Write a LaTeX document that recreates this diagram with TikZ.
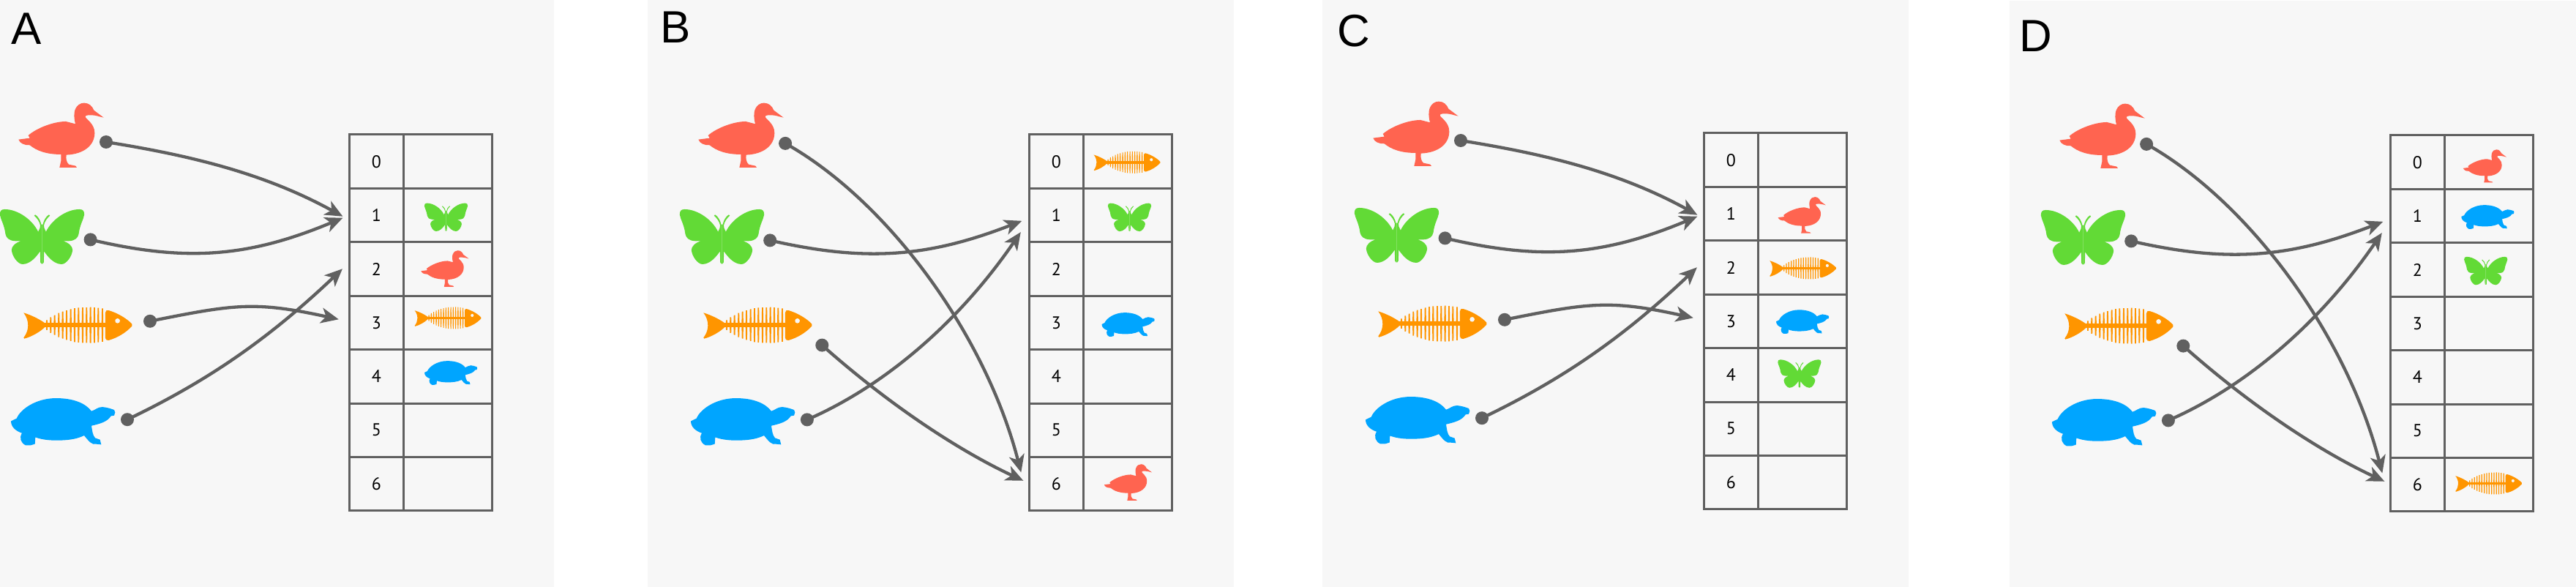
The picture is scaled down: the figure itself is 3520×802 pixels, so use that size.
\documentclass[tikz,border=0pt]{standalone}
\usepackage{fontspec}
\setmainfont{PT Sans}
\newfontfamily\letterfont{Liberation Sans}
\usetikzlibrary{arrows.meta}
\definecolor{panelbg}{HTML}{F7F7F7}
\definecolor{inkc}{HTML}{606060}
\definecolor{duckc}{HTML}{FF6450}
\definecolor{bflyc}{HTML}{62DA36}
\definecolor{fishc}{HTML}{FF9500}
\definecolor{turtc}{HTML}{00A5FF}
\tikzset{
  panelbox/.style={fill=panelbg,draw=none},
  cellbase/.style={draw=inkc,line width=0.3mm,rectangle,inner sep=0pt,minimum height=7.34mm,font=\fontsize{6.8pt}{8pt}\selectfont,text=black},
  idxcell/.style={cellbase,minimum width=7.41mm},
  valcell/.style={cellbase,minimum width=12.09mm},
  dotnode/.style={circle,fill=inkc,draw=none,inner sep=0pt,minimum size=1.8mm},
  conn/.style={draw=inkc,line width=0.43mm,-{Stealth[length=2.4mm,width=2.1mm,inset=0.65mm]}},
  panellabel/.style={anchor=base,inner sep=0pt,font=\letterfont\fontsize{17.6pt}{20pt}\selectfont,text=black},
  duck/.pic={
    \fill[duckc,shift={(-250.5,-194.5)}] (425,122) .. controls (405,118) and (392,112) .. (375,112)
      .. controls (362,112) and (350,112) .. (350,118)
      .. controls (350,128) and (388,145) .. (388,185)
      .. controls (388,235) and (345,272) .. (272,275)
      .. controls (270,290) and (272,305) .. (282,314)
      -- (310,320) -- (315,327) -- (244,327) -- (250,300) -- (250,273)
      .. controls (190,273) and (150,258) .. (122,235)
      .. controls (100,236) and (82,228) .. (76,212)
      -- (122,206) -- (116,195)
      .. controls (150,165) and (220,138) .. (270,138)
      -- (309,148)
      .. controls (303,125) and (303,105) .. (307,92)
      .. controls (315,70) and (330,62) .. (345,62)
      .. controls (365,62) and (378,75) .. (385,92)
      -- cycle;
  },
  bfly/.pic={
    \foreach \s in {1,-1}{
      \begin{scope}[xscale=\s]
        \fill[bflyc] (0,-50) -- (7,-50) -- (9,-35) -- (16,-20)
          .. controls (40,-70) and (100,-112) .. (153,-112)
          .. controls (168,-112) and (173,-105) .. (173,-90)
          .. controls (170,-70) and (155,-50) .. (150,-10)
          .. controls (147,5) and (135,17) .. (110,18)
          -- (86,18)
          .. controls (110,25) and (125,40) .. (125,55)
          .. controls (123,80) and (100,113) .. (80,113)
          .. controls (50,113) and (25,85) .. (8,60)
          -- (7,105) -- (3,111) -- (0,111) -- cycle;
        \fill[bflyc] (3,-48) .. controls (6,-65) and (15,-82) .. (28,-90)
          -- (32,-86) .. controls (20,-75) and (11,-62) .. (8,-48) -- cycle;
      \end{scope}
    }
  },
  fishbone/.pic={
    \begin{scope}[shift={(-319,-165)}]
      \fill[fishc] (97,112) .. controls (130,122) and (165,140) .. (185,155)
        -- (185,170) .. controls (165,190) and (130,210) .. (100,218)
        -- (97,214) .. controls (120,185) and (122,145) .. (97,112) -- cycle;
      \fill[fishc] (182,153) rectangle (436,172);
      \fill[fishc] (432,112) .. controls (432,103) and (438,100) .. (445,102)
        .. controls (480,112) and (520,135) .. (541,158)
        -- (541,167) .. controls (515,195) and (480,215) .. (445,225)
        .. controls (438,226) and (432,222) .. (432,215) -- cycle;
      \foreach \x/\t in {192/142,208/130,224/122,241/113,257/107,273/102,290/97,306/93,322/91,339/90,355/90,371/89,387/90,403/92,420/94}{
        \fill[fishc] (\x-2.6,\t) -- (\x+2.6,\t) -- (\x+4,162) -- ({\x+2.6},{325-\t}) -- ({\x-2.6},{325-\t}) -- (\x-4,162) -- cycle;
      }
      \fill[panelbg] (482,145) circle[radius=10];
    \end{scope}
  },
  turtle/.pic={
    \fill[turtc,shift={(-258,-560)}] (45,556) -- (68,545)
      .. controls (85,505) and (150,462) .. (230,462)
      .. controls (300,462) and (350,482) .. (375,515)
      .. controls (392,510) and (400,498) .. (420,498)
      .. controls (440,500) and (455,505) .. (468,510)
      -- (472,520) -- (468,533) -- (455,535)
      .. controls (440,560) and (405,568) .. (375,575)
      .. controls (378,595) and (380,615) .. (390,625)
      -- (410,632) -- (415,652) -- (395,650)
      .. controls (378,655) and (365,640) .. (345,615)
      .. controls (310,632) and (270,635) .. (230,635)
      .. controls (195,635) and (165,630) .. (145,622)
      -- (143,650) -- (125,655) -- (105,655)
      .. controls (85,645) and (78,625) .. (90,605)
      .. controls (65,597) and (45,580) .. (45,556) -- cycle;
  }
}
\newcommand\tablegrid[1]{%
  \foreach \r in {0,...,6}{
    \node[idxcell] (#1i\r) at (514.45,{184+73.4*(\r+0.5)}) {\r};
    \node[valcell] (#1v\r) at (611.95,{184+73.4*(\r+0.5)}) {};
  }
}
\newcommand\animals{%
  \pic[scale=0.3333] at (83.5,184.8) {duck};
  \pic[scale=0.3333] at (57.5,323.3) {bfly};
  \pic[scale=0.3333] at (106.3,445) {fishbone};
  \pic[scale=0.3333] at (86,576.7) {turtle};
}
% layout used by panels A and C
\newcommand\arrowsfirst[1]{%
  \node[dotnode] (#1d1) at (145,194) {};
  \node[dotnode] (#1d2) at (123.6,327.4) {};
  \node[dotnode] (#1d3) at (205,438.8) {};
  \node[dotnode] (#1d4) at (174,573.2) {};
  \coordinate (#1t1) at (468.4,295.7);
  \coordinate (#1t2) at (468.4,297.7);
  \coordinate (#1t3) at (462.8,436.3);
  \coordinate (#1t4) at (467.9,367.3);
  \draw[conn] (#1d1.center) .. controls (255,211.6) and (358.4,235.2) .. (#1t1);
  \draw[conn] (#1d2.center) .. controls (253.6,358) and (338.4,352) .. (#1t2);
  \draw[conn] (#1d3.center) .. controls (320,415.8) and (347.8,411) .. (#1t3);
  \draw[conn] (#1d4.center) .. controls (279,522.8) and (362.9,467) .. (#1t4);
}
% layout used by panels B and D
\newcommand\arrowssecond[1]{%
  \node[dotnode] (#1d1) at (144.1,195.9) {};
  \node[dotnode] (#1d2) at (123.2,328.4) {};
  \node[dotnode] (#1d3) at (194.3,471.6) {};
  \node[dotnode] (#1d4) at (173.9,573.4) {};
  \coordinate (#1t1) at (466.3,645.5);
  \coordinate (#1t2) at (467.3,301.8);
  \coordinate (#1t3) at (469.4,656.8);
  \coordinate (#1t4) at (465.8,317.1);
  \draw[conn] (#1d1.center) .. controls (285,275) and (418,458) .. (#1t1);
  \draw[conn] (#1d2.center) .. controls (253,358) and (338,352) .. (#1t2);
  \draw[conn] (#1d3.center) .. controls (284.3,551.6) and (379.4,614.8) .. (#1t3);
  \draw[conn] (#1d4.center) .. controls (285,525) and (385,435) .. (#1t4);
}
\begin{document}
\begin{tikzpicture}[x=0.1mm,y=-0.1mm]
  \useasboundingbox (0,0) rectangle (3520,802);
  \fill[white] (0,0) rectangle (3520,802);
  \fill[panelbox] (0,0) rectangle (757,802);
  \fill[panelbox] (885,0) rectangle (1685.6,802);
  \fill[panelbox] (1807,0) rectangle (2608,802);
  \fill[panelbox] (2746,1) rectangle (3520,802);
  \node[panellabel] (labA) at (36.5,61) {A};
  \node[panellabel] (labB) at (923.5,59) {B};
  \node[panellabel] (labC) at (1849.5,64) {C};
  \node[panellabel] (labD) at (2782,71) {D};
  % Panel A
  \begin{scope}
    \tablegrid{a}
    \animals
    \arrowsfirst{a}
    \pic[scale=0.171] at (609.5,296.7) {bfly};
    \pic[scale=0.187] at (608,367) {duck};
    \pic[scale=0.204] at (612,435) {fishbone};
    \pic[scale=0.169] at (616,509.7) {turtle};
  \end{scope}
  % Panel B
  \begin{scope}[shift={(929,0)}]
    \tablegrid{b}
    \animals
    \arrowssecond{b}
    \pic[scale=0.204] at (611,222.3) {fishbone};
    \pic[scale=0.171] at (614.5,296.8) {bfly};
    \pic[scale=0.169] at (612.5,443.7) {turtle};
    \pic[scale=0.187] at (612.5,659) {duck};
  \end{scope}
  % Panel C
  \begin{scope}[shift={(1851,-2)}]
    \tablegrid{c}
    \animals
    \arrowsfirst{c}
    \pic[scale=0.187] at (611.3,295.9) {duck};
    \pic[scale=0.204] at (612.6,369) {fishbone};
    \pic[scale=0.169] at (612,441.9) {turtle};
    \pic[scale=0.171] at (607.9,512.5) {bfly};
  \end{scope}
  % Panel D
  \begin{scope}[shift={(2789,1)}]
    \tablegrid{d}
    \animals
    \arrowssecond{d}
    \pic[scale=0.17] at (606.3,225.9) {duck};
    \pic[scale=0.169] at (610.3,295.7) {turtle};
    \pic[scale=0.171] at (607.7,369) {bfly};
    \pic[scale=0.204] at (611.6,660) {fishbone};
  \end{scope}
\end{tikzpicture}
\end{document}
